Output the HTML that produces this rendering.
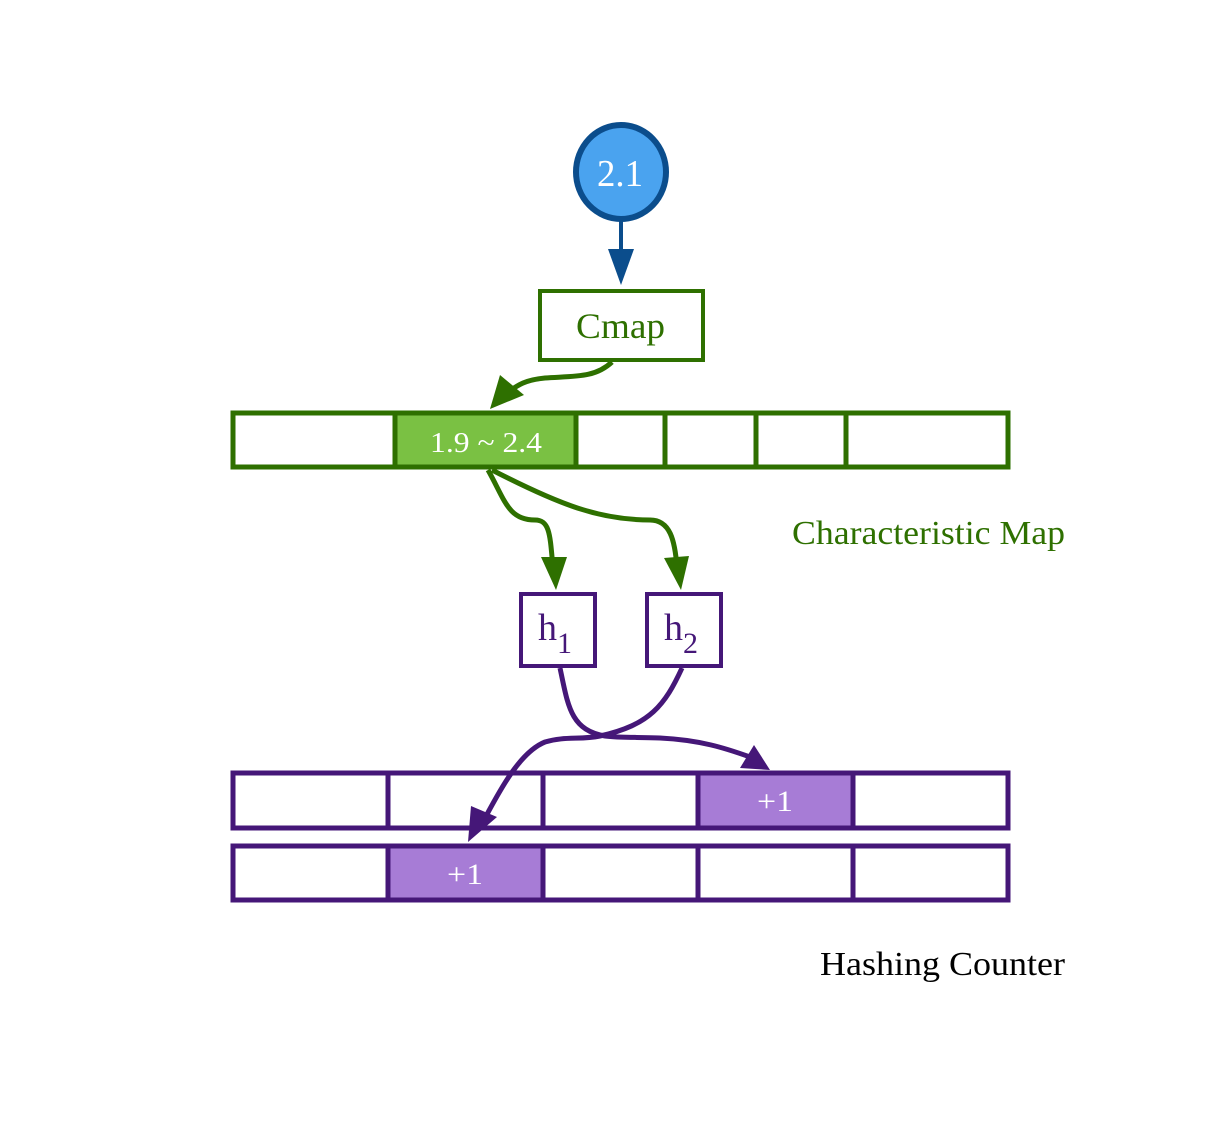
<!DOCTYPE html>
<html><head><meta charset="utf-8"><style>
html,body{margin:0;padding:0;background:#fff;}
svg{display:block;}
text{font-family:"Liberation Serif",serif;}
</style></head><body>
<svg width="1222" height="1138" viewBox="0 0 1222 1138" xmlns="http://www.w3.org/2000/svg">
<rect width="1222" height="1138" fill="#fff"/>
<ellipse cx="621" cy="172" rx="45" ry="47" fill="#4aa3ef" stroke="#0b4d8c" stroke-width="6"/>
<text x="597" y="186" font-size="38" fill="#fff" textLength="46" lengthAdjust="spacingAndGlyphs">2.1</text>
<line x1="621" y1="218" x2="621" y2="262" stroke="#0b4d8c" stroke-width="4"/>
<polygon points="608,249 634,249 621,285" fill="#0b4d8c"/>
<rect x="540" y="291" width="163" height="69" fill="#fff" stroke="#2e7000" stroke-width="4"/>
<text x="576" y="338" font-size="36" fill="#2e7000" textLength="89" lengthAdjust="spacingAndGlyphs">Cmap</text>
<path d="M612,362 C595,378 575,376 545,378 C525,380 518,385 508,392" fill="none" stroke="#2e7000" stroke-width="5"/>
<polygon points="490,409 500,375 524,395" fill="#2e7000"/>
<rect x="395" y="413" width="181" height="54" fill="#7ac143"/>
<rect x="233" y="413" width="775" height="54" fill="none" stroke="#2e7000" stroke-width="5"/>
<g stroke="#2e7000" stroke-width="5">
<line x1="395" y1="413" x2="395" y2="467"/><line x1="576" y1="413" x2="576" y2="467"/>
<line x1="665" y1="413" x2="665" y2="467"/><line x1="756" y1="413" x2="756" y2="467"/>
<line x1="846" y1="413" x2="846" y2="467"/></g>
<text x="430" y="452" font-size="28" fill="#fff" textLength="112" lengthAdjust="spacingAndGlyphs">1.9 ~ 2.4</text>
<path d="M488,470 C505,500 508,520 535,520 C550,520 550,535 553,568" fill="none" stroke="#2e7000" stroke-width="5"/>
<polygon points="541,557 567,557 556,590" fill="#2e7000"/>
<path d="M492,470 C560,505 600,520 650,520 C670,520 675,540 677,568" fill="none" stroke="#2e7000" stroke-width="5"/>
<polygon points="664,558 689,556 681,590" fill="#2e7000"/>
<text x="792" y="544" font-size="34" fill="#2e7000" textLength="273" lengthAdjust="spacingAndGlyphs">Characteristic Map</text>
<rect x="521" y="594" width="74" height="72" fill="#fff" stroke="#451778" stroke-width="4"/>
<rect x="647" y="594" width="74" height="72" fill="#fff" stroke="#451778" stroke-width="4"/>
<text x="538" y="640" font-size="38" fill="#451778">h</text><text x="557" y="653" font-size="30" fill="#451778">1</text>
<text x="664" y="640" font-size="38" fill="#451778">h</text><text x="683" y="653" font-size="30" fill="#451778">2</text>
<rect x="698" y="773" width="155" height="55" fill="#a77cd6"/>
<rect x="388" y="846" width="155" height="54" fill="#a77cd6"/>
<rect x="233" y="773" width="775" height="55" fill="none" stroke="#451778" stroke-width="5"/>
<rect x="233" y="846" width="775" height="54" fill="none" stroke="#451778" stroke-width="5"/>
<g stroke="#451778" stroke-width="5">
<line x1="388" y1="773" x2="388" y2="828"/><line x1="543" y1="773" x2="543" y2="828"/>
<line x1="698" y1="773" x2="698" y2="828"/><line x1="853" y1="773" x2="853" y2="828"/>
<line x1="388" y1="846" x2="388" y2="900"/><line x1="543" y1="846" x2="543" y2="900"/>
<line x1="698" y1="846" x2="698" y2="900"/><line x1="853" y1="846" x2="853" y2="900"/></g>
<text x="757" y="811" font-size="30" fill="#fff" textLength="36" lengthAdjust="spacingAndGlyphs">+1</text>
<text x="447" y="884" font-size="30" fill="#fff" textLength="36" lengthAdjust="spacingAndGlyphs">+1</text>
<path d="M560,668 C568,705 570,730 605,736 C620,738 640,737 660,738 C700,740 725,748 750,757" fill="none" stroke="#451778" stroke-width="5"/>
<polygon points="754,745 770,770 740,768" fill="#451778"/>
<path d="M682,668 C665,705 650,725 600,736 C580,740 565,736 545,742 C520,752 500,790 485,818" fill="none" stroke="#451778" stroke-width="5"/>
<polygon points="471,806 497,817 468,842" fill="#451778"/>
<text x="820" y="975" font-size="34" fill="#000" textLength="245" lengthAdjust="spacingAndGlyphs">Hashing Counter</text>
</svg>
</body></html>
